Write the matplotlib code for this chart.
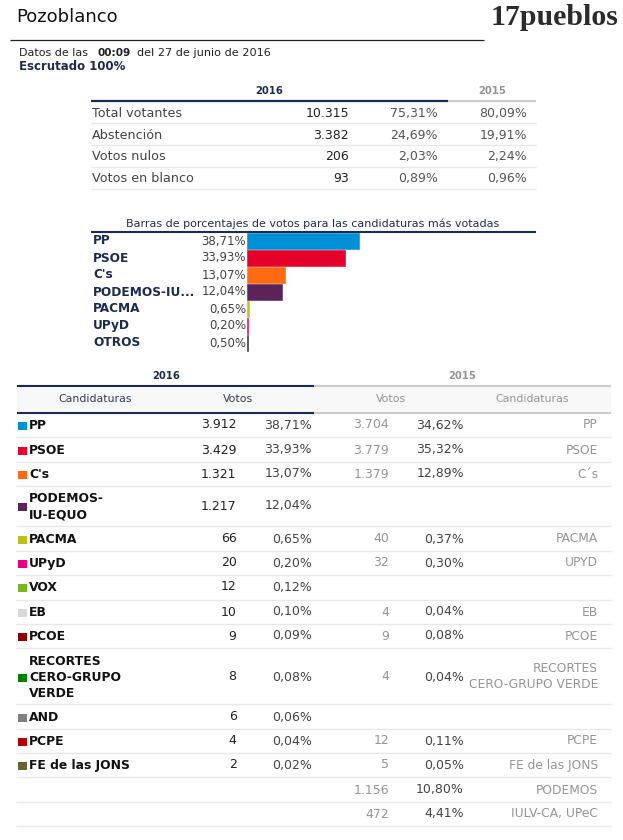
import matplotlib
matplotlib.use("Agg")
import matplotlib.pyplot as plt
from matplotlib.patches import Rectangle

# resumen de participacion
resumen_labels = ["Total votantes", "Abstención", "Votos nulos", "Votos en blanco"]
resumen_votos = ["10.315", "3.382", "206", "93"]
resumen_pct16 = ["75,31%", "24,69%", "2,03%", "0,89%"]
resumen_pct15 = ["80,09%", "19,91%", "2,24%", "0,96%"]

# barras
barras_labels = ["PP", "PSOE", "C's", "PODEMOS-IU...", "PACMA", "UPyD", "OTROS"]
barras_pct = [38.71, 33.93, 13.07, 12.04, 0.65, 0.20, 0.50]
barras_txt = ["38,71%", "33,93%", "13,07%", "12,04%", "0,65%", "0,20%", "0,50%"]
barras_col = ["#0090d7", "#e4002b", "#ff6a13", "#5c2358", "#c4c41c", "#d6007f", "#333333"]

# tabla de candidaturas
cand_16 = ["PP", "PSOE", "C's", "PODEMOS-\nIU-EQUO", "PACMA", "UPyD", "VOX", "EB", "PCOE",
           "RECORTES\nCERO-GRUPO\nVERDE", "AND", "PCPE", "FE de las JONS", "", ""]
cand_col = ["#0090d7", "#e4002b", "#ff6a13", "#5c2358", "#bdbd1c", "#e6007e", "#7ab51d", "#d8d8d8",
            "#8b0000", "#008000", "#808080", "#b00000", "#666633", None, None]
votos_16 = ["3.912", "3.429", "1.321", "1.217", "66", "20", "12", "10", "9", "8", "6", "4", "2", "", ""]
pct_16 = ["38,71%", "33,93%", "13,07%", "12,04%", "0,65%", "0,20%", "0,12%", "0,10%", "0,09%",
          "0,08%", "0,06%", "0,04%", "0,02%", "", ""]
votos_15 = ["3.704", "3.779", "1.379", "", "40", "32", "", "4", "9", "4", "", "12", "5", "1.156", "472"]
pct_15 = ["34,62%", "35,32%", "12,89%", "", "0,37%", "0,30%", "", "0,04%", "0,08%", "0,04%", "",
          "0,11%", "0,05%", "10,80%", "4,41%"]
cand_15 = ["PP", "PSOE", "C´s", "", "PACMA", "UPYD", "", "EB", "PCOE", "RECORTES\nCERO-GRUPO VERDE",
           "", "PCPE", "FE de las JONS", "PODEMOS", "IULV-CA, UPeC"]
filas_y = [425, 450, 474, 506, 539, 563, 587, 612, 636, 677, 717, 741, 765, 790, 814]
filas_sep = [437, 462, 486, 526, 551, 575, 600, 624, 648, 704, 729, 753, 777, 802, 826]

NAVY = "#1c2b4f"
GRIS = "#959595"
TXT = "#444444"
LINEA = "#e8e8e8"

W, H = 623, 840
fig = plt.figure(figsize=(W / 100, H / 100), dpi=100)
ax = fig.add_axes([0, 0, 1, 1])
ax.set_xlim(0, W)
ax.set_ylim(H, 0)
ax.axis("off")


def txt(x, y, s, size=9.0, color=TXT, ha="left", weight="normal", **kw):
    ax.text(x, y + 3.5, s, fontsize=size, color=color, ha=ha, va="baseline", fontweight=weight, **kw)


def hline(x0, x1, y, color=LINEA, lw=1.0):
    ax.plot([x0, x1], [y, y], color=color, lw=lw, solid_capstyle="butt")


# cabecera
txt(16, 19, "Pozoblanco", size=13, color="#111111")
hline(10, 484, 39.5, color="#222222", lw=0.9)
ax.text(491, 25, "17pueblos", fontsize=21.5, family="Liberation Serif", fontweight="bold",
        color="#2b2b2b", ha="left", va="baseline")
txt(19, 52.5, "Datos de las", size=8, color="#222222")
txt(97, 52.5, "00:09", size=7.6, color="#222222", weight="bold")
txt(137, 52.5, "del 27 de junio de 2016", size=8.1, color="#222222")
txt(19, 67, "Escrutado 100%", size=8.5, color=NAVY, weight="bold")

# resumen
txt(269, 90.5, "2016", size=7.2, color=NAVY, ha="center", weight="bold")
txt(492, 90.5, "2015", size=7.2, color=GRIS, ha="center", weight="bold")
hline(91, 448, 100.7, color=NAVY, lw=1.6)
hline(448, 536, 100.7, color="#cccccc", lw=1.6)
for i, lab in enumerate(resumen_labels):
    y = 113.5 + i * 21.7
    txt(92, y, lab, size=9.2)
    txt(349, y, resumen_votos[i], ha="right", color="#222222")
    txt(438, y, resumen_pct16[i], ha="right", color="#555555")
    txt(527, y, resumen_pct15[i], ha="right", color="#555555")
    hline(91, 536, 123.3 + i * 21.9)

# barras
txt(313, 223.5, "Barras de porcentajes de votos para las candidaturas más votadas", size=8, ha="center",
    color="#222f4f")
hline(91, 536, 232, color=NAVY, lw=1.5)
bar_ax = fig.add_axes([247 / W, 1 - 351.5 / H, 289 / W, 119 / H])
bar_ax.set_xlim(0, 100)
bar_ax.set_ylim(len(barras_pct) - 0.5, -0.5)
bar_ax.axis("off")
bar_ax.barh(range(len(barras_pct)), barras_pct, height=0.94, color=barras_col,
            edgecolor=barras_col, linewidth=0.4)
for i, lab in enumerate(barras_labels):
    y = 241 + i * 17
    txt(93, y, lab, size=8.7, color=NAVY, weight="bold")
    txt(246, y, barras_txt[i], size=8.5, ha="right")

# tabla grande
txt(166, 375.5, "2016", size=7.2, color=NAVY, ha="center", weight="bold")
txt(462, 375.5, "2015", size=7.2, color=GRIS, ha="center", weight="bold")
ax.add_patch(Rectangle((17, 386), 594, 27, color="#f8f8f8", lw=0))
hline(17, 314, 386, color=NAVY, lw=1.5)
hline(314, 611, 386, color="#cccccc", lw=1.5)
hline(17, 314, 413, color=NAVY, lw=1.5)
hline(314, 611, 413, color="#cccccc", lw=1.5)
txt(95, 399, "Candidaturas", size=7.9, ha="center", color="#333f5a")
txt(238, 399, "Votos", size=7.9, ha="center", color="#333f5a")
txt(391, 399, "Votos", size=7.9, ha="center", color=GRIS)
txt(532, 399, "Candidaturas", size=7.9, ha="center", color=GRIS)

for i, y in enumerate(filas_y):
    if cand_col[i]:
        ax.add_patch(Rectangle((18, y - 3.5), 9, 8, color=cand_col[i], lw=0))
    n_lineas = cand_16[i].count("\n")
    if cand_16[i]:
        # el texto multilinea se centra con va=center
        ax.text(29, y + 0.5, cand_16[i], fontsize=8.9, color="#111111", fontweight="bold",
                linespacing=1.32, va="center", ha="left")
    txt(236.5, y, votos_16[i], color="#222222", ha="right")
    txt(312, y, pct_16[i], ha="right")
    txt(389, y, votos_15[i], color=GRIS, ha="right")
    txt(464, y, pct_15[i], ha="right")
    if "\n" in cand_15[i]:
        ax.text(598, y, cand_15[i], fontsize=8.8, color=GRIS, ha="right", va="center", linespacing=1.3)
    else:
        txt(598, y, cand_15[i], size=8.8, color=GRIS, ha="right")
    hline(16, 611, filas_sep[i])

fig.savefig("out.png", dpi=100, facecolor="white")
